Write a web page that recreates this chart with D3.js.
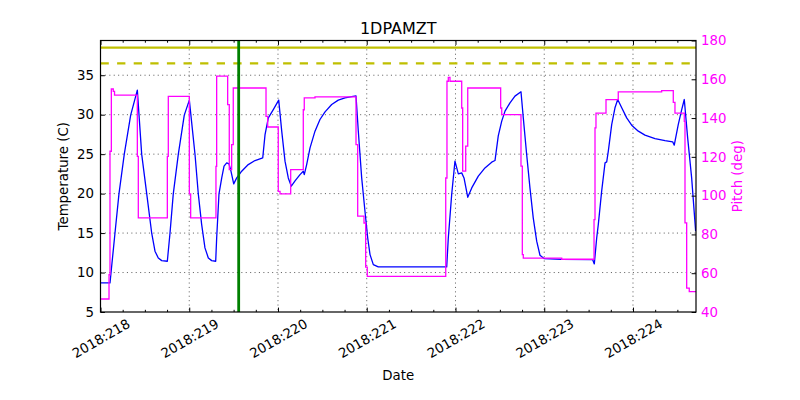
<!DOCTYPE html>
<html>
<head>
<meta charset="utf-8">
<script src="https://cdn.jsdelivr.net/npm/d3@7"></script>
<style>
  html, body { margin: 0; padding: 0; background: #fff; }
  svg { display: block; }
  text { font-family: "DejaVu Sans", sans-serif; }
</style>
</head>
<body>
<svg id="chart" width="800" height="400"></svg>
<script>
// ---------------- data ----------------
const title = "1DPAMZT";
const dayTicks = [218, 219, 220, 221, 222, 223, 224];
const tempTicks = [5, 10, 15, 20, 25, 30, 35];
const pitchTicks = [40, 60, 80, 100, 120, 140, 160, 180];
const limitSolid = 38.5;
const limitDashed = 36.5;
const markerDay = 219.557;

// [day-of-year, temperature C]
const tempSeries = [
  [218.0, 8.68], [218.107, 8.68], [218.118, 9.91], [218.163, 14.98], [218.208, 19.96],
  [218.268, 25.0], [218.340, 29.94], [218.415, 33.11], [218.464, 25.0], [218.521, 19.96],
  [218.577, 14.98], [218.614, 12.70], [218.651, 11.85], [218.690, 11.51], [218.753, 11.43],
  [218.783, 14.98], [218.820, 19.96], [218.877, 25.0], [218.944, 29.94], [219.001, 31.85],
  [219.065, 24.95], [219.102, 19.96], [219.140, 16.07], [219.177, 13.12], [219.215, 11.85],
  [219.253, 11.51], [219.298, 11.43], [219.309, 14.38], [219.335, 19.96], [219.366, 21.99],
  [219.392, 23.48], [219.422, 23.89], [219.448, 23.77], [219.470, 22.84], [219.501, 21.23],
  [219.535, 21.99], [219.591, 22.84], [219.665, 23.68], [219.741, 24.19], [219.828, 24.53],
  [219.854, 27.48], [219.891, 29.60], [219.947, 30.65], [220.008, 31.85], [220.042, 27.91],
  [220.079, 24.11], [220.116, 21.99], [220.150, 20.94], [220.192, 21.61], [220.248, 22.41],
  [220.285, 22.84], [220.296, 22.41], [220.323, 23.68], [220.361, 25.80], [220.417, 27.91],
  [220.473, 29.39], [220.530, 30.36], [220.605, 31.29], [220.679, 31.85], [220.755, 32.14],
  [220.830, 32.30], [220.879, 32.39], [220.905, 27.91], [220.943, 21.99], [220.980, 17.77],
  [221.011, 14.38], [221.037, 12.27], [221.074, 11.0], [221.130, 10.71], [221.901, 10.71],
  [221.919, 14.38], [221.957, 19.87], [221.994, 24.11], [222.032, 22.5], [222.070, 22.63],
  [222.096, 21.99], [222.138, 19.54], [222.183, 20.72], [222.257, 22.21], [222.332, 23.26],
  [222.408, 23.98], [222.445, 24.19], [222.482, 27.32], [222.521, 29.18], [222.558, 30.45],
  [222.614, 31.50], [222.670, 32.35], [222.738, 32.90], [222.764, 29.60], [222.802, 24.95],
  [222.839, 20.72], [222.876, 16.92], [222.915, 13.97], [222.952, 12.19], [223.001, 11.76],
  [223.197, 11.68], [223.546, 11.63], [223.564, 11.09], [223.591, 14.38], [223.609, 16.07],
  [223.647, 20.31], [223.685, 23.89], [223.704, 24.02], [223.722, 25.38], [223.760, 28.75],
  [223.797, 30.87], [223.828, 31.92], [223.873, 30.87], [223.929, 29.60], [223.985, 28.67],
  [224.060, 27.91], [224.135, 27.41], [224.248, 26.98], [224.361, 26.72], [224.447, 26.56],
  [224.465, 26.14], [224.510, 28.75], [224.549, 30.65], [224.578, 31.92], [224.616, 27.06],
  [224.661, 21.99], [224.706, 15.23]
];

// [day-of-year, pitch deg] (step-after)
const pitchSeries = [
  [218.0, 46.7], [218.096, 59.2], [218.107, 122.9], [218.122, 155.0], [218.144, 153.8],
  [218.158, 151.8], [218.415, 120.3], [218.426, 88.5], [218.753, 120.3], [218.764, 151.2],
  [219.001, 100.9], [219.016, 88.5], [219.301, 115.1], [219.309, 161.6], [219.433, 146.9],
  [219.451, 113.4], [219.478, 126.3], [219.496, 155.5], [219.865, 140.9], [219.884, 135.4],
  [220.003, 102.2], [220.023, 100.9], [220.143, 113.4], [220.285, 144.3], [220.296, 150.4],
  [220.417, 150.9], [220.879, 126.3], [220.898, 89.4], [220.969, 85.9], [220.988, 63.1],
  [221.006, 58.4], [221.890, 109.1], [221.904, 159.0], [221.919, 161.0], [221.938, 159.0],
  [222.070, 145.2], [222.081, 112.6], [222.115, 125.5], [222.138, 155.5], [222.509, 145.2],
  [222.521, 141.8], [222.738, 115.2], [222.753, 69.6], [222.764, 67.8], [223.197, 67.2],
  [223.561, 87.6], [223.572, 134.9], [223.583, 142.6], [223.696, 149.5], [223.834, 153.5],
  [224.323, 154.2], [224.454, 148.1], [224.473, 142.6], [224.578, 138.3], [224.586, 86.0],
  [224.605, 52.3], [224.634, 50.5], [224.71, 50.5]
];

// ---------------- layout ----------------
const L = 100.5, R = 696, T = 40.5, B = 312;
const svg = d3.select("#chart");
const fs = "13.33px";

const x = d3.scaleLinear().domain([218, 224.71]).range([L, R]);
const yT = d3.scaleLinear().domain([5, 39.4]).range([B, T]);
const yP = d3.scaleLinear().domain([40, 180]).range([B, T]);

svg.append("defs").append("clipPath").attr("id", "clip")
  .append("rect").attr("x", L).attr("y", T).attr("width", R - L).attr("height", B - T);

// grid
const grid = svg.append("g").attr("stroke", "#000").attr("stroke-width", 0.6)
  .attr("stroke-dasharray", "1.1,3.3");
dayTicks.filter(d => d > 218).forEach(d => {
  grid.append("line").attr("x1", x(d)).attr("x2", x(d)).attr("y1", T).attr("y2", B);
});
tempTicks.filter(t => t > 5).forEach(t => {
  grid.append("line").attr("x1", L).attr("x2", R).attr("y1", yT(t)).attr("y2", yT(t));
});

const plot = svg.append("g").attr("clip-path", "url(#clip)");

// limit lines
plot.append("line").attr("x1", L).attr("x2", R)
  .attr("y1", yT(limitSolid)).attr("y2", yT(limitSolid))
  .attr("stroke", "#bfbf00").attr("stroke-width", 2.2);
plot.append("line").attr("x1", L).attr("x2", R)
  .attr("y1", yT(limitDashed)).attr("y2", yT(limitDashed))
  .attr("stroke", "#bfbf00").attr("stroke-width", 2.2).attr("stroke-dasharray", "8.3,8.3");

// temperature
plot.append("path").datum(tempSeries)
  .attr("fill", "none").attr("stroke", "#0000ff").attr("stroke-width", 1.3)
  .attr("stroke-linejoin", "round")
  .attr("d", d3.line().x(d => x(d[0])).y(d => yT(d[1])));

// pitch
plot.append("path").datum(pitchSeries)
  .attr("fill", "none").attr("stroke", "#ff00ff").attr("stroke-width", 1.3)
  .attr("d", d3.line().curve(d3.curveStepAfter).x(d => x(d[0])).y(d => yP(d[1])));

// marker
plot.append("line").attr("x1", x(markerDay)).attr("x2", x(markerDay))
  .attr("y1", T).attr("y2", B).attr("stroke", "#008000").attr("stroke-width", 2.8);

// axes
const minorDays = d3.range(218, 224.75, 0.25).filter(d => d % 1 !== 0 && d <= 224.71);

function styleAxis(g) {
  g.select(".domain").remove();
  g.selectAll("line").attr("stroke", "#000").attr("stroke-width", 1);
  g.selectAll("text").attr("font-family", "DejaVu Sans").attr("font-size", fs);
}

const xb = svg.append("g").attr("transform", `translate(0,${B})`)
  .call(d3.axisBottom(x).tickValues(dayTicks).tickSize(-4.4).tickFormat(d => "2018:" + d))
  .call(styleAxis);
xb.selectAll("text").attr("y", null).attr("dy", "0.35em")
  .attr("text-anchor", "middle").attr("fill", "#000")
  .attr("transform", "translate(0,26.5) rotate(-30)");
svg.append("g").attr("transform", `translate(0,${B})`)
  .call(d3.axisBottom(x).tickValues(minorDays).tickSize(-2.2).tickFormat(""))
  .call(styleAxis);
svg.append("g").attr("transform", `translate(0,${T})`)
  .call(d3.axisTop(x).tickValues(dayTicks).tickSize(-4.4).tickFormat(""))
  .call(styleAxis);
svg.append("g").attr("transform", `translate(0,${T})`)
  .call(d3.axisTop(x).tickValues(minorDays).tickSize(-2.2).tickFormat(""))
  .call(styleAxis);

const yl = svg.append("g").attr("transform", `translate(${L},0)`)
  .call(d3.axisLeft(yT).tickValues(tempTicks).tickSize(-4.4).tickPadding(6.5).tickFormat(d3.format("d")))
  .call(styleAxis);
yl.selectAll("text").attr("fill", "#000");

const yr = svg.append("g").attr("transform", `translate(${R},0)`)
  .call(d3.axisRight(yP).tickValues(pitchTicks).tickSize(-4.4).tickPadding(5).tickFormat(d3.format("d")))
  .call(styleAxis);
yr.selectAll("text").attr("fill", "#ff00ff");

// frame
svg.append("rect").attr("x", L).attr("y", T).attr("width", R - L).attr("height", B - T)
  .attr("fill", "none").attr("stroke", "#000").attr("stroke-width", 1.2);

// labels
svg.append("text").attr("x", (L + R) / 2).attr("y", 33.5).attr("text-anchor", "middle")
  .attr("font-size", "16px").attr("fill", "#000").text(title);
svg.append("text").attr("x", (L + R) / 2).attr("y", 380).attr("text-anchor", "middle")
  .attr("font-size", fs).attr("fill", "#000").text("Date");
svg.append("text").attr("transform", `translate(68,${(T + B) / 2}) rotate(-90)`)
  .attr("text-anchor", "middle").attr("font-size", fs).attr("fill", "#000").text("Temperature (C)");
svg.append("text").attr("transform", `translate(742,${(T + B) / 2}) rotate(-90)`)
  .attr("text-anchor", "middle").attr("font-size", fs).attr("fill", "#ff00ff").text("Pitch (deg)");
</script>
</body>
</html>
